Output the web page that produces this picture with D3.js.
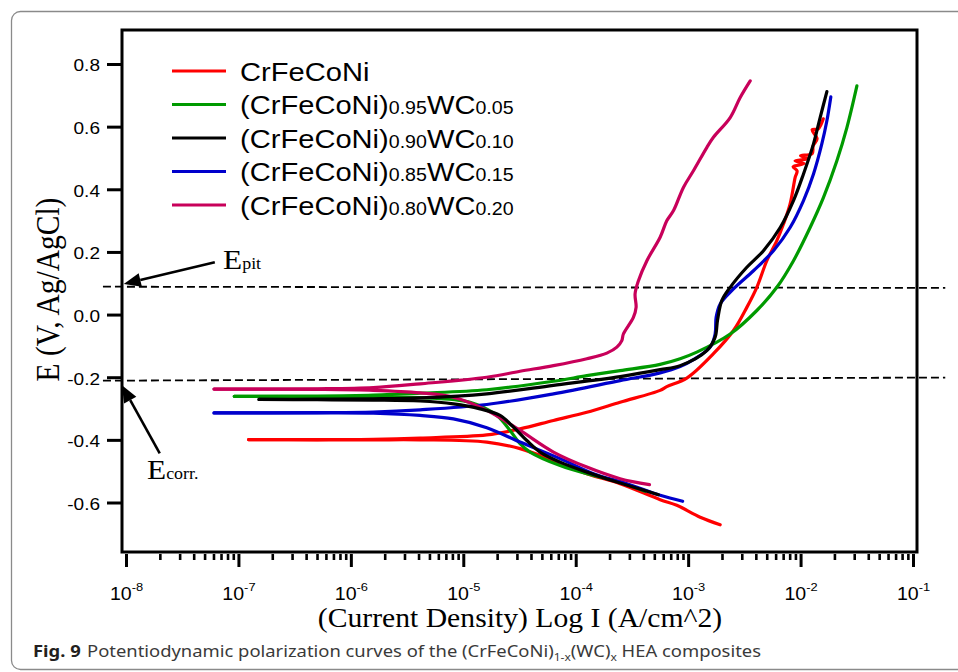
<!DOCTYPE html>
<html>
<head>
<meta charset="utf-8">
<script src="https://cdn.jsdelivr.net/npm/d3@7"></script>
<style>
body { margin: 0; background: #fff; }
svg { display: block; }
</style>
</head>
<body>
<script>
// series labels
const names = ["CrFeCoNi", "(CrFeCoNi)0.95WC0.05", "(CrFeCoNi)0.90WC0.10", "(CrFeCoNi)0.85WC0.15", "(CrFeCoNi)0.80WC0.20"];
const colors = ["#ff0000", "#009a00", "#000000", "#0000cc", "#c8005a"];

// points are [log10 I (A/cm^2), E (V vs Ag/AgCl)]
const cathodicX0 = [[-6.91,-0.399],[-6.3,-0.400],[-5.8,-0.400],[-5.384,-0.400],[-4.791,-0.407],[-4.495,-0.428],[-4.198,-0.466],[-3.901,-0.508],[-3.605,-0.540],[-3.249,-0.591],[-3.101,-0.609],[-2.893,-0.647],[-2.715,-0.671]];
const anodicX0 = [[-6.91,-0.399],[-6.3,-0.399],[-5.8,-0.398],[-5.384,-0.394],[-4.791,-0.384],[-4.495,-0.365],[-4.198,-0.338],[-3.901,-0.312],[-3.605,-0.280],[-3.249,-0.242],[-3.19,-0.230],[-3.012,-0.203],[-2.775,-0.125],[-2.597,-0.051],[-2.478,0.023],[-2.389,0.087],[-2.300,0.172],[-2.211,0.236],[-2.152,0.289],[-2.093,0.353],[-2.048,0.438],[-2.031,0.459],[-2.066,0.472],[-1.968,0.482],[-2.049,0.491],[-1.932,0.498],[-2.0,0.507],[-1.897,0.514],[-1.888,0.539],[-1.853,0.561],[-1.897,0.590],[-1.843,0.593],[-1.798,0.625]];

const cathodicX05 = [[-7.037,-0.261],[-6.3,-0.262],[-5.8,-0.263],[-5.384,-0.265],[-4.940,-0.280],[-4.702,-0.322],[-4.584,-0.370],[-4.495,-0.412],[-4.406,-0.439],[-4.139,-0.482],[-3.842,-0.514],[-3.605,-0.535],[-3.383,-0.564]];
const anodicX05 = [[-7.037,-0.261],[-6.3,-0.260],[-5.8,-0.257],[-5.384,-0.251],[-4.791,-0.240],[-4.198,-0.213],[-3.901,-0.195],[-3.605,-0.179],[-3.249,-0.159],[-3.071,-0.141],[-2.923,-0.120],[-2.626,-0.062],[-2.389,0.013],[-2.211,0.087],[-2.063,0.172],[-1.915,0.278],[-1.796,0.374],[-1.677,0.491],[-1.588,0.597],[-1.499,0.730]];

const cathodicX10 = [[-6.817,-0.271],[-6.3,-0.272],[-5.8,-0.273],[-5.384,-0.276],[-5.088,-0.285],[-4.851,-0.301],[-4.673,-0.322],[-4.554,-0.359],[-4.435,-0.402],[-4.317,-0.439],[-4.139,-0.471],[-3.901,-0.503],[-3.605,-0.538],[-3.264,-0.575]];
const anodicX10 = [[-6.817,-0.271],[-6.3,-0.270],[-5.8,-0.269],[-5.384,-0.266],[-4.791,-0.253],[-4.198,-0.226],[-3.605,-0.198],[-3.249,-0.176],[-3.071,-0.163],[-2.834,-0.115],[-2.760,-0.072],[-2.739,-0.019],[-2.700,0.045],[-2.626,0.087],[-2.478,0.151],[-2.330,0.204],[-2.181,0.278],[-2.063,0.364],[-1.974,0.449],[-1.885,0.545],[-1.826,0.629],[-1.766,0.712]];

const cathodicX15 = [[-7.217,-0.314],[-6.3,-0.314],[-5.8,-0.315],[-5.384,-0.322],[-5.088,-0.333],[-4.791,-0.361],[-4.495,-0.407],[-4.139,-0.460],[-3.842,-0.508],[-3.545,-0.540],[-3.249,-0.577],[-3.049,-0.596]];
const anodicX15 = [[-7.217,-0.314],[-6.3,-0.313],[-5.8,-0.311],[-5.384,-0.304],[-4.791,-0.287],[-4.198,-0.253],[-3.605,-0.211],[-3.249,-0.186],[-3.071,-0.166],[-2.953,-0.144],[-2.804,-0.104],[-2.760,-0.062],[-2.751,-0.009],[-2.715,0.034],[-2.597,0.082],[-2.419,0.140],[-2.241,0.204],[-2.093,0.278],[-1.974,0.364],[-1.885,0.449],[-1.811,0.545],[-1.766,0.619],[-1.731,0.695]];

const cathodicX20 = [[-7.217,-0.238],[-6.3,-0.239],[-5.8,-0.242],[-5.384,-0.250],[-5.088,-0.264],[-4.791,-0.306],[-4.495,-0.370],[-4.198,-0.439],[-3.901,-0.487],[-3.605,-0.524],[-3.344,-0.543]];
const anodicX20 = [[-7.217,-0.238],[-6.3,-0.237],[-5.8,-0.233],[-5.384,-0.221],[-4.791,-0.200],[-4.495,-0.181],[-4.198,-0.163],[-3.901,-0.141],[-3.723,-0.123],[-3.634,-0.104],[-3.590,-0.083],[-3.576,-0.062],[-3.487,-0.009],[-3.463,0.023],[-3.472,0.066],[-3.442,0.108],[-3.367,0.172],[-3.249,0.247],[-3.189,0.300],[-3.130,0.332],[-3.042,0.406],[-2.953,0.459],[-2.833,0.534],[-2.775,0.566],[-2.626,0.629],[-2.537,0.693],[-2.448,0.746]];

const cathodic = [cathodicX0, cathodicX05, cathodicX10, cathodicX15, cathodicX20];
const anodic = [anodicX0, anodicX05, anodicX10, anodicX15, anodicX20];

// axes
const yTicks = [-0.6, -0.4, -0.2, 0, 0.2, 0.4, 0.6, 0.8];
const xDecades = [-8, -7, -6, -5, -4, -3, -2, -1];

// annotations, same [log10 I, E] units
const pitLine = [[-8.205, 0.089], [-0.713, 0.085]];
const corrLine = [[-8.205, -0.211], [-0.713, -0.201]];
const pitArrow = [[-7.21, 0.167], [-8.02, 0.098]];
const corrArrow = [[-7.70, -0.443], [-8.036, -0.226]];
const pitLabel = [-7.137, 0.147];
const corrLabel = [-7.813, -0.526];

const W = 958, H = 672,
      SX = 1.12, // the figure was stretched sideways
      sans = "'Liberation Sans', Arial, sans-serif",
      serif = "'Liberation Serif', 'Times New Roman', serif";

const svg = d3.select("body").append("svg")
              .attr("width", W)
              .attr("height", H);

// card border
svg.append("rect")
   .attr("x", 11.5).attr("y", 11.5)
   .attr("width", 990).attr("height", 658)
   .attr("rx", 9)
   .attr("fill", "none")
   .attr("stroke", "#8a8a8a")
   .attr("stroke-width", 1.3);

const x = d3.scaleLog().domain([1e-8, 1e-1]).range([126, 913]),
      y = d3.scaleLinear().domain([-0.6, 0.8]).range([502.5, 64]),
      px = d => x(Math.pow(10, d[0])),
      py = d => y(d[1]);

// y axis
const gy = svg.append("g")
              .attr("transform", "translate(122,0)")
              .call(d3.axisLeft(y).tickValues(yTicks).tickSize(15).tickFormat(d => d.toFixed(1)));
gy.select(".domain").remove();
gy.selectAll(".tick line").attr("stroke", "#000").attr("stroke-width", 3);
gy.selectAll(".tick text")
  .attr("x", null)
  .attr("dy", "0.4em")
  .attr("transform", `translate(-22,0) scale(${SX},1)`)
  .attr("font-family", sans)
  .attr("font-size", 17)
  .attr("fill", "#000");

// x axis: minor then major ticks
const minor = [];
xDecades.slice(0, -1).forEach(d => { for (let m = 2; m < 10; m++) minor.push(m * Math.pow(10, d)); });

const gxm = svg.append("g")
               .attr("transform", "translate(0,554)")
               .call(d3.axisBottom(x).tickValues(minor).tickSize(6).tickFormat(""));
gxm.select(".domain").remove();
gxm.selectAll(".tick text").remove();
gxm.selectAll(".tick line").attr("stroke", "#000").attr("stroke-width", 2.6);

const gx = svg.append("g")
              .attr("transform", "translate(0,554)")
              .call(d3.axisBottom(x).tickValues(xDecades.map(d => Math.pow(10, d))).tickSize(13).tickFormat(""));
gx.select(".domain").remove();
gx.selectAll(".tick line").attr("stroke", "#000").attr("stroke-width", 3);
gx.selectAll(".tick text").each(function(d) {
	const t = d3.select(this)
	            .attr("y", 46).attr("dy", 0)
	            .attr("transform", `scale(${SX},1)`)
	            .attr("font-family", sans)
	            .attr("fill", "#000");
	t.append("tspan").attr("font-size", 17.5).text("10");
	t.append("tspan").attr("font-size", 11.5).attr("dy", -9).text(Math.round(Math.log10(d)));
});

// frame
svg.append("rect")
   .attr("x", 122).attr("y", 30)
   .attr("width", 795).attr("height", 522)
   .attr("fill", "none")
   .attr("stroke", "#000")
   .attr("stroke-width", 3);

// dashed guide lines
const straight = d3.line().x(px).y(py);
[pitLine, corrLine].forEach(l => {
	svg.append("path")
	   .attr("d", straight(l))
	   .attr("fill", "none")
	   .attr("stroke", "#000")
	   .attr("stroke-width", 1.8)
	   .attr("stroke-dasharray", "8,4");
});

// curves
const curve = d3.line().x(px).y(py).curve(d3.curveCatmullRom.alpha(0.5));
[0, 1, 3, 4, 2].forEach(i => {
	[cathodic[i], anodic[i]].forEach(branch => {
		svg.append("path")
		   .attr("d", curve(branch))
		   .attr("fill", "none")
		   .attr("stroke", colors[i])
		   .attr("stroke-width", 3.2)
		   .attr("stroke-linecap", "round")
		   .attr("stroke-linejoin", "round");
	});
});

// arrows
const arrow = (a) => {
	const x1 = px(a[0]), y1 = py(a[0]), x2 = px(a[1]), y2 = py(a[1]),
	      ang = Math.atan2(y2 - y1, x2 - x1),
	      L = 17, w = 7,
	      bx = x2 - L * Math.cos(ang), by = y2 - L * Math.sin(ang),
	      nx = -Math.sin(ang) * w, ny = Math.cos(ang) * w;
	svg.append("line")
	   .attr("x1", x1).attr("y1", y1).attr("x2", bx).attr("y2", by)
	   .attr("stroke", "#000").attr("stroke-width", 2.6);
	svg.append("path")
	   .attr("d", `M${x2},${y2}L${bx + nx},${by + ny}L${bx - nx},${by - ny}Z`)
	   .attr("fill", "#000");
};
arrow(pitArrow);
arrow(corrArrow);

const subLabel = (pos, sub) => {
	const t = svg.append("text")
	             .attr("transform", `translate(${px(pos)},${py(pos)}) scale(${SX},1)`)
	             .attr("font-family", serif)
	             .attr("fill", "#000");
	t.append("tspan").attr("font-size", 28).text("E");
	t.append("tspan").attr("font-size", 16).text(sub);
};
subLabel(pitLabel, "pit");
subLabel(corrLabel, "corr.");

// legend
names.forEach((name, i) => {
	const base = 80.7 + i * 33.5;
	svg.append("line")
	   .attr("x1", 172).attr("x2", 226)
	   .attr("y1", base - 9.7).attr("y2", base - 9.7)
	   .attr("stroke", colors[i])
	   .attr("stroke-width", 3.2);
	const t = svg.append("text")
	             .attr("transform", `translate(240,${base}) scale(${SX},1)`)
	             .attr("font-family", sans)
	             .attr("fill", "#000");
	const m = name.match(/^(\(CrFeCoNi\))([\d.]+)(WC)([\d.]+)$/);
	if (m) {
		t.append("tspan").attr("font-size", 26).text(m[1]);
		t.append("tspan").attr("font-size", 17.5).text(m[2]);
		t.append("tspan").attr("font-size", 26).text(m[3]);
		t.append("tspan").attr("font-size", 17.5).text(m[4]);
	} else {
		t.append("tspan").attr("font-size", 26).text(name);
	}
});

// axis titles
svg.append("text")
   .attr("transform", `translate(520,626.7) scale(${SX},1)`)
   .attr("text-anchor", "middle")
   .attr("font-family", serif)
   .attr("font-size", 26.5)
   .text("(Current Density) Log I (A/cm^2)");

svg.append("text")
   .attr("transform", `translate(59,289.5) scale(${SX},1) rotate(-90)`)
   .attr("text-anchor", "middle")
   .attr("font-family", serif)
   .attr("font-size", 29.5)
   .text("E (V, Ag/AgCl)");

// caption
const capFont = "'Noto Sans', 'Open Sans', sans-serif";
svg.append("text")
   .attr("transform", "translate(33,657) scale(1.15,1)")
   .attr("font-family", capFont)
   .attr("font-size", 16)
   .attr("font-weight", "bold")
   .attr("fill", "#231f20")
   .text("Fig. 9");
const cap = svg.append("text")
               .attr("transform", "translate(87,657) scale(1.15,1)")
               .attr("font-family", capFont)
               .attr("font-size", 16)
               .attr("fill", "#3a3a3a");
cap.append("tspan").text("Potentiodynamic polarization curves of the (CrFeCoNi)");
cap.append("tspan").attr("font-size", 10.5).attr("dy", 4).text("1-x");
cap.append("tspan").attr("dy", -4).text("(WC)");
cap.append("tspan").attr("font-size", 10.5).attr("dy", 4).text("x");
cap.append("tspan").attr("dy", -4).text(" HEA composites");
</script>
</body>
</html>
